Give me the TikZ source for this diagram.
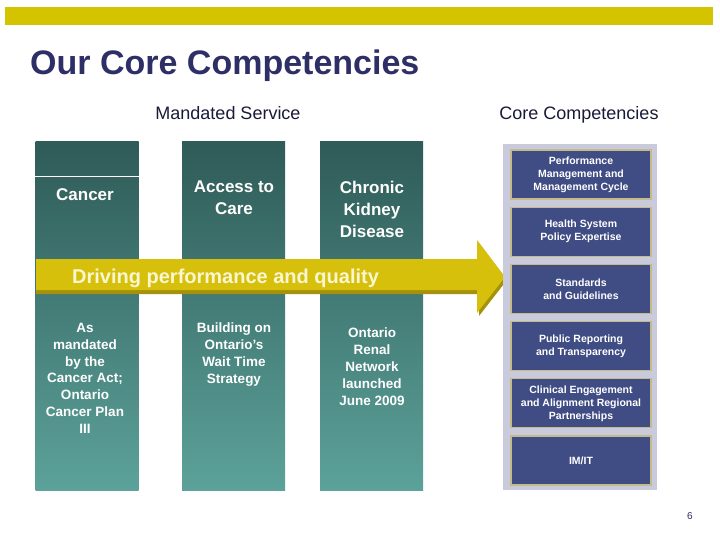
\documentclass[tikz,border=0pt]{standalone}
\usepackage{fontspec}
\setmainfont{Liberation Sans}
\usetikzlibrary{positioning}
\definecolor{barYellow}{RGB}{212,196,0}
\definecolor{titleNavy}{RGB}{45,47,102}
\definecolor{tealTop}{RGB}{47,91,88}
\definecolor{tealBottom}{RGB}{92,162,154}
\definecolor{arrowYellow}{RGB}{214,192,12}
\definecolor{arrowShadow}{RGB}{165,145,10}
\definecolor{creamText}{RGB}{250,246,210}
\definecolor{panelGray}{RGB}{201,202,220}
\definecolor{boxNavy}{RGB}{64,76,132}
\definecolor{boxEdge}{RGB}{196,186,138}

\begin{document}
\begin{tikzpicture}[x=1pt,y=-1pt,
  col/.style={minimum width=103pt,minimum height=348pt,inner sep=0pt,top color=tealTop,bottom color=tealBottom},
  head/.style={text=white,font=\fontsize{17}{22}\selectfont\bfseries,align=center,anchor=north,inner sep=0pt},
  note/.style={text=white,font=\fontsize{13.5}{16.8}\selectfont\bfseries,align=center,anchor=north,inner sep=0pt},
  caption/.style={font=\fontsize{18}{22}\selectfont,text=titleNavy!55!black,anchor=base,inner sep=0pt},
  panel/.style={fill=panelGray,minimum width=154pt,minimum height=346pt,inner sep=0pt},
  comp/.style={fill=boxNavy,draw=boxEdge,line width=1.2pt,minimum width=140pt,minimum height=49pt,inner sep=0pt,
    text=white,align=center,font=\fontsize{10.5}{13}\selectfont\bfseries},
  node distance=7pt
]
\useasboundingbox (0,0) rectangle (720,540);
\fill[barYellow] (5,7) rectangle (713,25);
\node[anchor=base west,inner sep=0pt,text=titleNavy,font=\fontsize{34}{38}\selectfont\bfseries] (title) at (30,75) {Our Core Competencies};
\node[caption] (mandated) at (228,120) {Mandated Service};
\node[caption] (corecap) at (579,120) {Core Competencies};

% mandated service columns
\node[col] (cancerCol) at (87,316) {};
\node[col] (accessCol) at (233.5,316) {};
\node[col] (kidneyCol) at (371.5,316) {};
\draw[white,line width=1pt] (cancerCol.west |- 0,177) -- (cancerCol.east |- 0,177);
\node[head] (cancer) at (85,188) {Cancer};
\node[head] (access) at (234,181) {Access to\\Care};
\node[head] (kidney) at (372,181) {Chronic\\Kidney\\Disease};
\node[note] (cancerNote) at (85,323) {As\\mandated\\by the\\Cancer Act;\\Ontario\\Cancer Plan\\III};
\node[note] (accessNote) at (234,323) {Building on\\Ontario’s\\Wait Time\\Strategy};
\node[note] (kidneyNote) at (372,328) {Ontario\\Renal\\Network\\launched\\June 2009};

% arrow
\fill[arrowShadow] (36,262) -- (479,262) -- (479,243) -- (507,280) -- (479,316) -- (479,294) -- (36,294) -- cycle;
\fill[arrowYellow] (36,259) -- (477,259) -- (477,240) -- (505,277) -- (477,313) -- (477,290) -- (36,290) -- cycle;
\node[anchor=base west,inner sep=0pt,text=creamText,font=\fontsize{20}{22}\selectfont\bfseries] (drive) at (72,283) {Driving performance and quality};

% core competencies
\node[panel] (panel) at (580,317) {};
\node[comp] (perf) at (581,174.5) {Performance\\Management and\\Management Cycle};
\node[comp,below=of perf] (policy) {Health System\\Policy Expertise};
\node[comp,below=of policy] (standards) {Standards\\and Guidelines};
\node[comp,below=of standards] (reporting) {Public Reporting\\and Transparency};
\node[comp,below=of reporting] (clinical) {Clinical Engagement\\and Alignment Regional\\Partnerships};
\node[comp,below=of clinical] (imit) {IM/IT};

\node[text=titleNavy,font=\fontsize{10}{12}\selectfont,inner sep=0pt] (page) at (690,516) {6};
\end{tikzpicture}
\end{document}
